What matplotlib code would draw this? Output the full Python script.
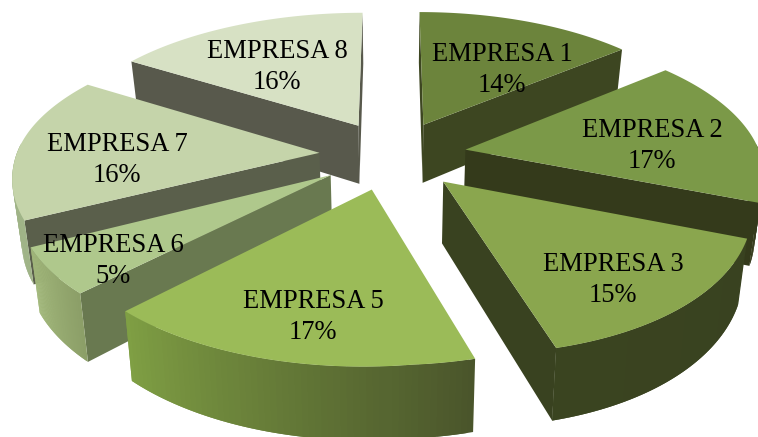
import numpy as np
import matplotlib
matplotlib.use("Agg")
import matplotlib.pyplot as plt
from matplotlib.colors import to_rgb
from matplotlib.patches import Polygon

# Share per company, clockwise from twelve o'clock
companies = ["EMPRESA 1", "EMPRESA 2", "EMPRESA 3", "EMPRESA 5", "EMPRESA 6", "EMPRESA 7", "EMPRESA 8"]
shares = [14, 17, 15, 17, 5, 16, 16]

top_colors = ["#6C843C", "#7B9948", "#8AA64E", "#9BBB58", "#AFC88C", "#C5D4AA", "#D7E1C4"]
cut_colors = ["#3D4621", "#343A1B", "#394220", "#4A5530", "#697950", "#5A5F4B", "#58594C"]
rim_start_colors = ["#3D4621", "#343A1B", "#394220", "#4A552B", "#8C9F68", "#A0B488", "#8A9078"]
rim_end_colors = ["#3D4621", "#343A1B", "#3A4420", "#80A044", "#A3B97C", "#9CB080", "#8A9078"]

# Label centres in pixels
label_x = [502, 652, 613, 313, 113, 117, 277]
label_y = [70, 146, 280, 317, 261, 160, 67]

# Projection settings
CX, CY = 393, 155
RX, RY = 295, 138
PERSP = 0.15
EXPLODE = 0.25
DEPTH = 60
BOTTOM_SHRINK = 0.975


def project(X, Z, bottom=False):
    """Ground plane to pixels, near points get bigger."""
    X, Z = np.asarray(X, float), np.asarray(Z, float)
    s = 1 / (1 + PERSP * Z)
    near, far = np.maximum(-Z, 0), np.maximum(Z, 0)
    left = np.maximum(-X, 0)
    # small lens terms for the front and the left of the camera view
    px = RX * X * s + 10 * near ** 3 - 3 * far * left - 4.2 * left ** 3
    py = CY - RY * Z * s + 11 * near * left
    if bottom:
        px = px * BOTTOM_SHRINK
        py = py + DEPTH * s
    return np.column_stack([CX + px, py])


def blend(c0, c1, t):
    c0, c1 = np.array(to_rgb(c0)), np.array(to_rgb(c1))
    return tuple(c0 + (c1 - c0) * t)


def faces_viewer(tip, rim, inside):
    """A cut face shows when the slice interior lies above its top edge."""
    edge = rim - tip
    side_in = edge[0] * (inside - tip)[1] - edge[1] * (inside - tip)[0]
    side_down = edge[0] * 1.0
    return side_in * side_down < 0


def draw_wedge(ax, start, end, top_c, cut_c, rim0, rim1):
    mid = (start + end) / 2
    xc, zc = EXPLODE * np.sin(mid), EXPLODE * np.cos(mid)
    th = np.linspace(start, end, 60)
    rx, rz = xc + np.sin(th), zc + np.cos(th)
    inside = project(xc + 0.5 * np.sin(mid), zc + 0.5 * np.cos(mid)).ravel()

    walls = []
    # the two cut faces
    for a in (start, end):
        X = np.array([xc, xc + np.sin(a)])
        Z = np.array([zc, zc + np.cos(a)])
        edge = project(X, Z)
        if faces_viewer(edge[0], edge[1], inside):
            pts = np.vstack([edge, project(X, Z, True)[::-1]])
            walls.append((np.mean(Z), pts, cut_c))
    # outer wall as overlapping strips for the shading
    for i in range(len(th) - 1):
        if np.cos(th[i]) > 0.05:
            continue
        X, Z = rx[i:i + 3], rz[i:i + 3]
        pts = np.vstack([project(X, Z), project(X, Z, True)[::-1]])
        walls.append((np.mean(Z) - 2, pts, blend(rim0, rim1, i / (len(th) - 2))))

    for _, pts, c in sorted(walls, key=lambda w: -w[0]):
        ax.add_patch(Polygon(pts, closed=True, facecolor=c, edgecolor="none"))

    top = project(np.r_[xc, rx], np.r_[zc, rz])
    ax.add_patch(Polygon(top, closed=True, facecolor=top_c, edgecolor="none"))


fig = plt.figure(figsize=(7.58, 4.37), dpi=100, facecolor="white")
ax = fig.add_axes([0, 0, 1, 1])
ax.set_xlim(0, 758)
ax.set_ylim(437, 0)
ax.axis("off")

edges = np.cumsum([0] + shares) / sum(shares) * 2 * np.pi
mids = (edges[:-1] + edges[1:]) / 2

# far slices first so the near ones cover them
for i in np.argsort(-np.cos(mids)):
    draw_wedge(ax, edges[i], edges[i + 1], top_colors[i], cut_colors[i],
               rim_start_colors[i], rim_end_colors[i])

for name, share, x, y in zip(companies, shares, label_x, label_y):
    ax.text(x, y, f"{name}\n{share}%", ha="center", va="center", color="black",
            family="Liberation Serif", fontsize=19.1, linespacing=1.28)

fig.savefig("out.png", dpi=100)
